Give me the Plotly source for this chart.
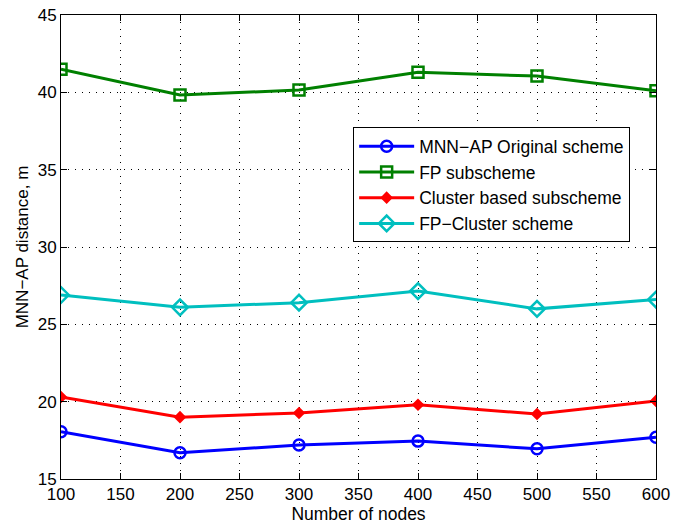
import plotly.graph_objects as go

nodes = [100, 200, 300, 400, 500, 600]
mnn_ap_original = [18.05, 16.7, 17.2, 17.45, 16.95, 17.7]
fp_subscheme = [41.5, 39.83, 40.15, 41.3, 41.05, 40.1]
cluster_subscheme = [20.3, 19.0, 19.27, 19.8, 19.2, 20.05]
fp_cluster_scheme = [26.9, 26.1, 26.4, 27.15, 26.0, 26.6]

series = [
    ("MNN\u2212AP Original scheme", mnn_ap_original, "#0000FF", "circle-open", 11),
    ("FP subscheme", fp_subscheme, "#008000", "square-open", 11),
    ("Cluster based subscheme", cluster_subscheme, "#FF0000", "diamond", 7),
    ("FP\u2212Cluster scheme", fp_cluster_scheme, "#00BFBF", "diamond-open", 12),
]

fig = go.Figure()
for name, vals, color, sym, size in series:
    fig.add_trace(go.Scatter(
        x=nodes, y=vals, name=name, mode="lines+markers",
        line=dict(color=color, width=3),
        marker=dict(symbol=sym, size=size, color=color,
                    line=dict(color=color, width=2.5)),
    ))

axis_common = dict(
    showline=True, mirror="ticks", linecolor="black", linewidth=1,
    ticks="inside", ticklen=6, tickcolor="black",
    showgrid=True, gridcolor="black", griddash="1px,6px", gridwidth=1.2,
    zeroline=False, tickfont=dict(size=17, color="black"), automargin=False,
)

fig.update_layout(
    width=679, height=524,
    margin=dict(l=61, r=23, t=15, b=45),
    paper_bgcolor="white", plot_bgcolor="white",
    font=dict(family="Liberation Sans, Arial, sans-serif", color="black"),
    xaxis=dict(range=[100, 600], tickvals=[100, 150, 200, 250, 300, 350, 400, 450, 500, 550, 600],
               title=dict(text="Number of nodes", font=dict(size=17.5), standoff=0), **axis_common),
    yaxis=dict(range=[15, 45], tickvals=[15, 20, 25, 30, 35, 40, 45],
               title=dict(text="MNN\u2212AP distance, m", font=dict(size=17), standoff=4), **axis_common),
    legend=dict(x=0.491, y=0.758, xanchor="left", yanchor="top",
                bgcolor="white", bordercolor="black", borderwidth=1,
                font=dict(size=17.5), itemwidth=55, tracegroupgap=4),
    showlegend=True,
)

fig.write_html("out.html")
